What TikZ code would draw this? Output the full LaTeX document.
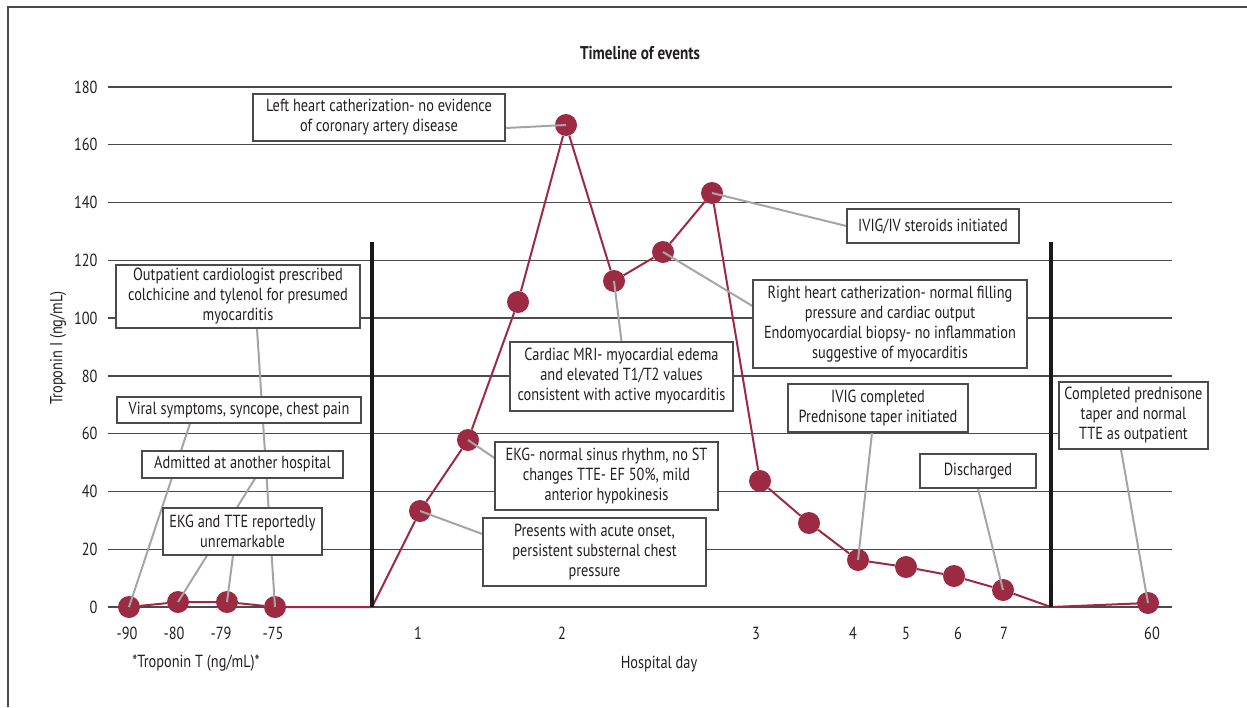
\documentclass[tikz,border=0pt]{standalone}
\usepackage{fontspec}
\setmainfont{PT Sans}[FakeStretch=0.82]
\definecolor{trace}{RGB}{157,42,67}
\definecolor{leadgray}{RGB}{165,165,165}
\definecolor{gridgray}{RGB}{75,75,75}
\definecolor{ink}{RGB}{35,31,32}
\newcommand\eventfont{\fontsize{17.5}{20}\selectfont}
\newcommand\axisfont{\fontsize{17.5}{20}\selectfont}
\newcommand\titlefont{\fontsize{18.5}{20}\selectfont\bfseries}
\pgfdeclarelayer{back}
\pgfdeclarelayer{lead}
\pgfsetlayers{back,lead,main}
\tikzset{event/.style={draw=gridgray,line width=1.2pt,fill=white,text=ink,align=center,inner sep=0pt,font=\eventfont},
         reading/.style={circle,fill=trace,minimum size=22pt,inner sep=0pt},
         leader/.style={draw=leadgray,line width=2pt},
         gridline/.style={draw=gridgray,line width=1.3pt},
         daybar/.style={draw=black!90,line width=4.5pt},
         tracer/.style={draw=trace,line width=2pt,line join=round},
         ticklabel/.style={text=ink,font=\axisfont},
        }

\begin{document}
\begin{tikzpicture}[x=1pt,y=-1pt]
    \useasboundingbox (0,0) rectangle (1247,707);
    \draw[gridgray,line width=1.5pt] (8,707) -- (8,7) -- (1247,7);
    \node[ticklabel,font=\titlefont](title)at(640,53){Timeline of events};
    \node[ticklabel,rotate=90](ylab)at(58,348){Troponin I (ng/mL)};
    \node[ticklabel](tlab)at(196,663){*Troponin T (ng/mL)*};
    \node[ticklabel](xlab)at(659,664){Hospital day};

    \begin{pgfonlayer}{back}
    \foreach \v in {0,20,...,180}{
        \draw[gridline] (108,{607-2.889*\v}) -- (1172,{607-2.889*\v});
        \node[ticklabel,anchor=east](y\v)at(101,{607-2.889*\v}){\v};
    }
    \foreach \d/\x in {-90/127,-80/174,-79/221,-75/273,1/418,2/562,3/756,4/853,5/906,6/958,7/1004,60/1152}
        \node[ticklabel](tick\x)at(\x,633){\d};

    \node[reading](t90)at(129,607){};
    \node[reading](t80)at(178,602){};
    \node[reading](t79)at(227,602){};
    \node[reading](t75)at(275,607){};
    \coordinate(b1)at(372,607);
    \node[reading](d1)at(420,511){};
    \node[reading](d1b)at(468,440){};
    \node[reading](d1c)at(518,302){};
    \node[reading](d2)at(566,125){};
    \node[reading](d2b)at(614,281){};
    \node[reading](d2c)at(663,252){};
    \node[reading](d2d)at(712,193){};
    \node[reading](d3)at(760,481){};
    \node[reading](d3b)at(809,523){};
    \node[reading](d4)at(858,560){};
    \node[reading](d5)at(906,567){};
    \node[reading](d6)at(954,576){};
    \node[reading](d7)at(1003,590){};
    \coordinate(b2)at(1051,607);
    \node[reading](d60)at(1148,603){};

    \draw[tracer](t90)--(t80)--(t79)--(t75)--(b1)--(d1)--(d1b)--(d1c)--(d2)--(d2b)--(d2c)--(d2d)
        --(d3)--(d3b)--(d4)--(d5)--(d6)--(d7)--(b2)--(d60);
    \draw[daybar](372,242)--(b1);
    \draw[daybar](1051,242)--(b2);
    \end{pgfonlayer}

    \node[event,minimum width=252pt,minimum height=47pt](lhc)at(379,117.5){Left heart catherization- no evidence\\of coronary artery disease};
    \node[event,minimum width=244pt,minimum height=63pt](op)at(238,296.5){Outpatient cardiologist prescribed\\colchicine and tylenol for presumed\\myocarditis};
    \node[event,minimum width=244pt,minimum height=26pt](vs)at(239,410){Viral symptoms, syncope, chest pain};
    \node[event,minimum width=201pt,minimum height=27pt](ad)at(242.5,464.5){Admitted at another hospital};
    \node[event,minimum width=159pt,minimum height=47pt](ekg)at(242.5,531.5){EKG and TTE reportedly\\unremarkable};
    \node[event,minimum width=223pt,minimum height=69pt](mri)at(621.5,376.5){Cardiac MRI- myocardial edema\\and elevated T1/T2 values\\consistent with active myocarditis};
    \node[event,minimum width=223pt,minimum height=68pt](sinus)at(606.5,476){EKG- normal sinus rhythm, no ST\\changes TTE- EF 50\%, mild\\anterior hypokinesis};
    \node[event,minimum width=223pt,minimum height=68pt](pres)at(594.5,552){Presents with acute onset,\\persistent substernal chest\\pressure};
    \node[event,minimum width=172pt,minimum height=34pt](ivig)at(933,226){IVIG/IV steroids initiated};
    \node[event,minimum width=274pt,minimum height=88pt](rhc)at(890,324){Right heart catherization- normal filling\\pressure and cardiac output\\Endomyocardial biopsy- no inflammation\\suggestive of myocarditis};
    \node[event,minimum width=180pt,minimum height=48pt](done)at(878,408){IVIG completed\\Prednisone taper initiated};
    \node[event,minimum width=116pt,minimum height=34pt](dis)at(978,471){Discharged};
    \node[event,minimum width=149pt,minimum height=67pt](cp)at(1133.5,415.5){Completed prednisone\\taper and normal\\TTE as outpatient};

    \begin{pgfonlayer}{lead}
    \draw[leader]([yshift=-10.5pt]lhc.east)--(d2.center);
    \draw[leader]([xshift=19pt]op.south)--(t75.center);
    \draw[leader]([xshift=-49pt]vs.south)--(t90.center);
    \draw[leader]([xshift=12.5pt]ad.south)--(t80.center);
    \draw[leader]([xshift=-9.5pt]ekg.south)--(t79.center);
    \draw[leader](mri.north)--(d2b.center);
    \draw[leader]([yshift=18pt]sinus.west)--(d1b.center);
    \draw[leader]([yshift=18pt]pres.west)--(d1.center);
    \draw[leader](ivig.west)--(d2d.center);
    \draw[leader]([yshift=18pt]rhc.west)--(d2c.center);
    \draw[leader]([xshift=-6pt]done.south)--(d4.center);
    \draw[leader](dis.south)--(d7.center);
    \draw[leader]([xshift=-12.5pt]cp.south)--(d60.center);
    \end{pgfonlayer}
\end{tikzpicture}
\end{document}
